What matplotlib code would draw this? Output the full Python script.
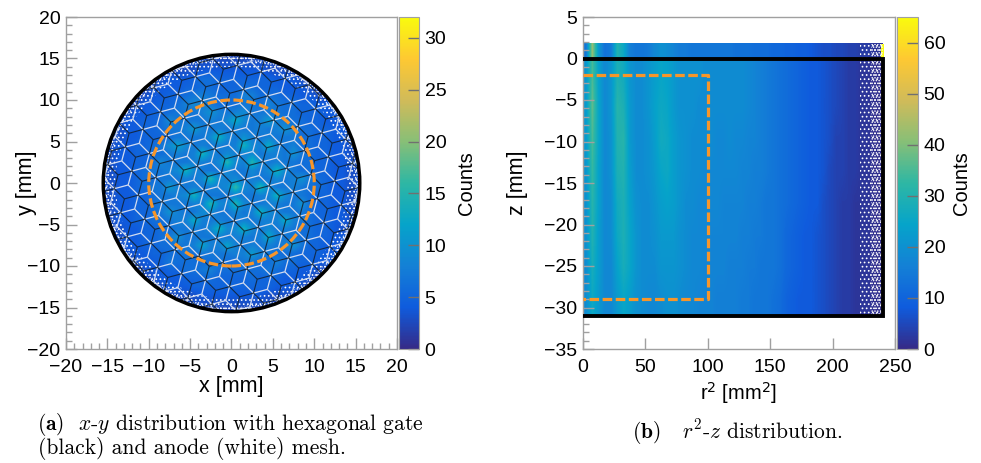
# -*- coding: utf-8 -*-
"""x-y and r^2-z event distributions with the mesh and fiducial outlines."""
import matplotlib
matplotlib.use("Agg")
import matplotlib.pyplot as plt
import numpy as np
from matplotlib.collections import LineCollection
from matplotlib.colors import LinearSegmentedColormap
from matplotlib.patches import Circle, Rectangle, Wedge
from matplotlib.ticker import MultipleLocator

plt.rcParams.update({"font.family": ["Liberation Sans", "DejaVu Sans"], "font.size": 14,
                     "mathtext.fontset": "cm", "hatch.linewidth": 0.7})

# ROOT kBird palette
BIRD_R = [0.2082, 0.0592, 0.0780, 0.0232, 0.1802, 0.5301, 0.8186, 0.9956, 0.9764]
BIRD_G = [0.1664, 0.3599, 0.5041, 0.6419, 0.7178, 0.7492, 0.7328, 0.7862, 0.9832]
BIRD_B = [0.5293, 0.8684, 0.8385, 0.7914, 0.6425, 0.4662, 0.3499, 0.1968, 0.0539]

# counts per 1 mm cell, y = 15.5 ... -15.5 (rows), x = -15.5 ... 15.5 (columns)
XY_COUNTS = [
    [2]*32,
    [2]*11 + [3]*10 + [2]*11,
    [2]*9 + [3]*3 + [4]*8 + [3]*3 + [2]*9,
    [2]*7 + [3,4,4,4,5,6,6,5,5, 5,5,5,5,5,4,4,4,3] + [2]*7,
    [2]*6 + [3,4,4,4,5,5,6,6,5,5, 5,6,6,5,5,5,4,4,4,3] + [2]*6,
    [2]*5 + [3,4,4,5,5,6,7,8,7,6,6, 6,8,8,6,6,6,5,5,4,4,3] + [2]*5,
    [2,2,2,2,3,4,4,5,5,6,8,9,8,7,6,6, 6,7,7,6,8,7,6,6,5,5,4,4,3,2,2,2],
    [2,2,2,3,4,4,5,5,6,7,7,7,8,10,8,7, 8,9,7,7,7,7,6,6,5,5,5,4,4,3,2,2],
    [2,2,3,4,4,5,5,6,9,7,7,7,7,8,7,9, 13,9,7,8,11,8,7,6,6,5,5,4,4,3,2,2],
    [2,3,3,4,4,5,5,6,7,7,8,11,8,7,8,7, 8,7,7,8,7,8,10,8,6,6,5,5,4,4,3,2],
    [2,3,3,4,4,5,5,5,6,7,7,7,7,9,14,9, 7,10,8,7,8,7,7,7,6,6,5,5,4,4,3,2],
    [2,3,4,4,5,5,6,7,9,12,9,7,8,7,8,7, 8,14,9,8,13,8,7,8,6,6,5,5,4,4,3,2],
    [2,3,4,4,5,5,6,6,7,8,7,8,14,9,7,9, 8,8,9,7,8,8,7,10,7,6,5,5,4,4,3,2],
    [3,3,4,4,5,5,6,9,7,7,7,8,8,7,9,15, 9,8,15,9,7,8,7,7,6,6,5,5,4,4,3,3],
    [3,3,4,4,5,6,7,7,8,9,14,9,7,7,7,9, 7,7,9,7,9,14,9,7,6,6,5,5,4,4,3,3],
    [3,3,4,4,5,6,6,7,7,7,8,7,9,15,9,8, 9,7,8,7,7,9,7,8,10,7,6,5,4,4,3,3],
    [3,3,4,4,5,6,7,7,11,8,7,8,7,8,8,9, 16,9,8,15,9,7,7,8,7,6,6,5,4,4,3,3],
    [3,3,4,4,5,5,6,7,7,8,9,14,8,7,7,7, 8,7,7,8,8,14,9,7,7,6,5,5,4,4,3,3],
    [2,3,4,4,5,5,6,7,7,7,7,8,8,15,9,8, 15,9,7,7,8,8,7,7,10,6,5,5,4,4,3,2],
    [2,3,4,4,5,5,6,7,10,8,7,7,9,9,7,7, 9,7,8,14,9,8,7,7,7,6,5,5,4,4,3,2],
    [2,3,4,4,5,5,6,6,7,8,8,13,8,7,8,7, 7,8,7,8,8,8,13,8,7,6,5,5,4,4,3,2],
    [2,3,3,4,4,5,5,6,6,7,7,8,7,9,14,9, 9,14,9,7,9,7,8,7,6,6,5,5,4,3,3,2],
    [2,3,3,4,4,5,5,6,7,10,7,7,7,7,8,7, 8,8,7,8,13,8,7,7,6,6,5,5,4,4,3,2],
    [2,2,3,4,4,5,5,6,6,7,7,8,12,8,8,12, 8,7,8,7,8,7,8,10,7,5,5,4,4,3,2,2],
    [2,2,2,3,4,4,5,5,6,6,7,6,7,7,7,7, 8,8,11,8,7,6,6,6,5,5,5,4,4,3,2,2],
    [2,2,2,2,3,4,4,5,7,6,6,6,6,6,7,6, 6,7,7,6,6,8,6,6,5,5,4,4,3,2,2,2],
    [2]*5 + [3,4,4,5,5,6,6,7,8,6,6, 6,6,6,6,7,6,5,5,4,4,3] + [2]*5,
    [2]*6 + [3,4,4,4,5,5,5,6,5,5, 5,5,6,5,5,5,4,4,4,3] + [2]*6,
    [2]*7 + [3,4,4,4,5,5,5,5,5, 5,5,5,5,5,4,4,4,3] + [2]*7,
    [2]*9 + [3]*3 + [4]*8 + [3]*3 + [2]*9,
    [2]*11 + [3]*10 + [2]*11,
    [2]*32,
]

# counts per 5 mm^2 bin, r^2 = 0 ... 240; rows from z = 0 down to z = -31
RZ_COUNTS = [
    [21,35,24,18,21,29,27,21,19,19, 21,23,25,24,22,20,20,20,20,19, 19,19,19,19,19,19,18,17,16,15, 14,13,12,11,10,9,8,8,7,6, 5,4,3,3,2,2,1,1],
    [22,37,25,18,21,31,29,22,19,19, 21,24,26,25,22,20,20,20,19,19, 19,19,19,19,19,19,18,17,16,15, 14,13,12,11,10,9,8,8,7,6, 5,4,3,3,2,2,1,1],
    [22,35,25,18,20,30,31,22,19,19, 20,23,27,26,23,21,20,19,19,19, 19,18,18,19,18,18,17,17,16,15, 14,13,12,11,10,9,8,8,7,6, 4,4,3,3,2,2,1,1],
    [21,33,24,18,20,29,30,23,19,19, 20,22,25,26,23,21,20,19,19,18, 18,18,18,18,18,17,17,16,16,15, 14,13,12,11,10,9,8,8,7,5, 4,4,3,3,2,2,1,1],
    [20,31,24,18,19,27,29,24,20,19, 19,21,23,24,23,21,19,19,18,18, 18,18,17,17,17,17,16,16,15,14, 14,13,12,11,10,9,8,8,6,5, 4,3,3,2,2,2,1,1],
    [20,30,23,18,19,26,29,25,21,19, 19,20,22,22,22,20,19,18,18,18, 17,17,17,17,17,16,16,15,15,14, 14,13,11,10,9,8,8,7,6,5, 4,3,3,2,2,2,1,1],
    [19,28,23,18,18,24,28,25,21,19, 19,19,21,21,21,20,19,18,18,17, 17,17,17,16,16,16,15,15,14,14, 14,13,11,10,9,8,8,7,6,5, 4,3,3,2,2,2,1,1],
    [19,26,22,18,18,22,25,23,20,19, 18,18,19,20,20,19,18,18,17,17, 17,16,16,16,16,15,15,14,14,14, 13,12,10,9,8,8,8,7,6,5, 4,3,3,2,2,2,1,1],
]
RZ_LEFT_EDGE_COUNT = [[34]]
RZ_LEFT_EDGE_R2 = [0, 1]
RZ_LEFT_EDGE_Z = [-31, 1.8]
# strip above the gate, z = 0 ... 1.8
RZ_TOP_COUNTS = [[14,42,22,13,15,30,26,16,14,14, 15,18,20,19,17,15,15,14,14,14, 14,14,14,14,13,13,13,12,12,12, 11,11,10,10,9,9,8,7,6,6, 5,5,4,4,3,3,2,2]]
RZ_TOP_EDGE_COUNT = [[65]]
RZ_TOP_EDGE_R2 = [239, 241]
RZ_TOP_Z = [0, 1.8]

MESH_PITCH = 3.0        # mm, spacing of the gate nodes
DETECTOR_R = 15.5       # mm
FIDUCIAL_R = 10.0       # mm
GATE_R2 = [0, 240, 240, 0]
GATE_Z = [0, 0, -31, -31]
FID_R2 = [0, 100, 100, 0]
FID_Z = [-2, -2, -29, -29]

XY_TICKS = [-20, -15, -10, -5, 0, 5, 10, 15, 20]
CBAR_A_TICKS = [0, 5, 10, 15, 20, 25, 30]
CBAR_B_TICKS = [0, 10, 20, 30, 40, 50, 60]

GRAY = "#a0a0a0"
ORANGE = "#f7962a"
W, H = 981, 463


def rect(left, top, right, bottom):
    return [left / W, 1 - bottom / H, (right - left) / W, (bottom - top) / H]


def mesh_segments():
    """Gate (black) and anode (white) honeycombs on one triangular lattice."""
    s = MESH_PITCH / np.sqrt(3)
    u = s * np.array([np.cos(np.radians(15)), np.sin(np.radians(15))])
    v = s * np.array([np.cos(np.radians(75)), np.sin(np.radians(75))])
    black, white = [], []
    for i in range(-16, 17):
        for j in range(-16, 17):
            p = i * u + j * v
            for di, dj in [(1, 0), (0, 1), (-1, 1), (-1, 0), (0, -1), (1, -1)]:
                q = (i + di) * u + (j + dj) * v
                c0, c1 = (i - j) % 3, (i + di - j - dj) % 3
                if c0 == 0 and c1 == 1:
                    black.append([p, q])
                elif c0 == 1 and c1 == 2:
                    white.append([p, q])
    return black, white


def style_axes(ax):
    for sp in ax.spines.values():
        sp.set_color(GRAY)
        sp.set_linewidth(1.0)
    ax.tick_params(which="major", direction="in", length=8, width=1, color=GRAY)
    ax.tick_params(which="minor", direction="in", length=4, width=1, color=GRAY)
    ax.tick_params(axis="x", which="major", pad=7)
    ax.tick_params(axis="y", which="major", pad=4)


def add_colorbar(fig, im, box, ticks, label, label_x):
    cax = fig.add_axes(rect(*box))
    cb = fig.colorbar(im, cax=cax, ticks=ticks)
    cb.outline.set_edgecolor(GRAY)
    cax.tick_params(direction="in", length=8, width=1, color="#707070", pad=4)
    cb.set_label(label, fontsize=14.5, va="center")
    cax.yaxis.set_label_coords((label_x - box[0]) / (box[2] - box[0]), 0.5)
    return cb


bird = LinearSegmentedColormap.from_list("bird", list(zip(BIRD_R, BIRD_G, BIRD_B)))
fig = plt.figure(figsize=(W / 100, H / 100), dpi=100)

# (a) x-y
ax = fig.add_axes(rect(66, 17, 397, 349))
im = ax.imshow(np.array(XY_COUNTS), extent=[-16, 16, -16, 16], cmap=bird, vmin=0, vmax=32,
               interpolation="bilinear", aspect="auto", zorder=1)
im.set_clip_path(Circle((0, 0), DETECTOR_R, transform=ax.transData))
# thin statistics near the wall show up as white speckle
for inner, hatch in [(14.0, "...."), (14.9, "......")]:
    ax.add_patch(Wedge((0, 0), DETECTOR_R, 0, 360, width=DETECTOR_R - inner, fc="none",
                       ec="white", lw=0, hatch=hatch, zorder=2))
black, white = mesh_segments()
for segs, col, lw, a in [(white, "#d3dcf0", 0.9, 1.0), (black, "#12202e", 0.8, 0.85)]:
    lc = LineCollection(segs, colors=col, linewidths=lw, alpha=a, zorder=3)
    ax.add_collection(lc)
    lc.set_clip_path(Circle((0, 0), DETECTOR_R, transform=ax.transData))
ax.add_patch(Circle((0, 0), FIDUCIAL_R, fc="none", ec=ORANGE, lw=2.3, ls=(0, (3, 1.1)), zorder=4))
ax.add_patch(Circle((0, 0), DETECTOR_R, fc="none", ec="black", lw=2.5, zorder=5))
ax.set_xlim(-20, 20)
ax.set_ylim(-20, 20)
ax.set_xticks(XY_TICKS)
ax.set_yticks(XY_TICKS)
ax.xaxis.set_minor_locator(MultipleLocator(1))
ax.yaxis.set_minor_locator(MultipleLocator(1))
style_axes(ax)
ax.set_xlabel("x [mm]", fontsize=15.5, va="center")
ax.xaxis.set_label_coords(0.5, -0.114)
ax.set_ylabel("y [mm]", fontsize=15.5, va="center")
ax.yaxis.set_label_coords((26 - 66) / 331, 0.5)
add_colorbar(fig, im, (399, 17, 419, 349), CBAR_A_TICKS, "Counts", 467)

# (b) r^2-z
ax2 = fig.add_axes(rect(583, 17, 895, 349))
im2 = ax2.imshow(np.array(RZ_COUNTS), extent=[0, 240, -31, 0], cmap=bird, vmin=0, vmax=65,
                 interpolation="bilinear", aspect="auto", zorder=1)
ax2.imshow(np.array(RZ_TOP_COUNTS), extent=[0, 240, 0, 1.8], cmap=bird, vmin=0, vmax=65,
           interpolation="bilinear", aspect="auto", zorder=1)
ax2.pcolormesh(RZ_TOP_EDGE_R2, RZ_TOP_Z, RZ_TOP_EDGE_COUNT, cmap=bird, vmin=0, vmax=65, zorder=1)
ax2.pcolormesh(RZ_LEFT_EDGE_R2, RZ_LEFT_EDGE_Z, RZ_LEFT_EDGE_COUNT, cmap=bird, vmin=0, vmax=65, zorder=1)
for start, hatch in [(222, "...."), (231, "......")]:
    ax2.add_patch(Rectangle((start, GATE_Z[2]), GATE_R2[1] - start, RZ_TOP_Z[1] - GATE_Z[2], fc="none",
                            ec="white", lw=0, hatch=hatch, zorder=2))
ax2.plot(GATE_R2, GATE_Z, color="black", lw=2.8, solid_joinstyle="miter", zorder=5)
ax2.plot(FID_R2, FID_Z, color=ORANGE, lw=2.3, ls=(0, (3, 1.1)), zorder=4)
ax2.set_xlim(0, 250)
ax2.set_ylim(-35, 5)
ax2.set_xticks([0, 50, 100, 150, 200, 250])
ax2.set_yticks(list(range(-35, 6, 5)))
ax2.yaxis.set_minor_locator(MultipleLocator(1))
style_axes(ax2)
ax2.set_xlabel("r$^{2}$ [mm$^{2}$]", fontsize=14.5, va="center", math_fontfamily="dejavusans")
ax2.xaxis.set_label_coords(0.5, -0.133)
ax2.set_ylabel("z [mm]", fontsize=15.5, va="center")
ax2.yaxis.set_label_coords((518 - 583) / 312, 0.5)
add_colorbar(fig, im2, (897, 17, 918, 349), CBAR_B_TICKS, "Counts", 962)

# captions
cap = {"family": ["cmr10", "DejaVu Serif"], "fontsize": 15.5, "va": "center"}
fig.text(37 / W, 1 - 425 / H, r"$\mathbf{(a)}$  $x$-$y$ distribution with hexagonal gate", **cap)
fig.text(38 / W, 1 - 449 / H, "(black) and anode (white) mesh.", **cap)
fig.text(737 / W, 1 - 432 / H, r"$\mathbf{(b)}$   $r^{2}$-$z$ distribution.", ha="center", **cap)

fig.savefig("out.png", dpi=100)
